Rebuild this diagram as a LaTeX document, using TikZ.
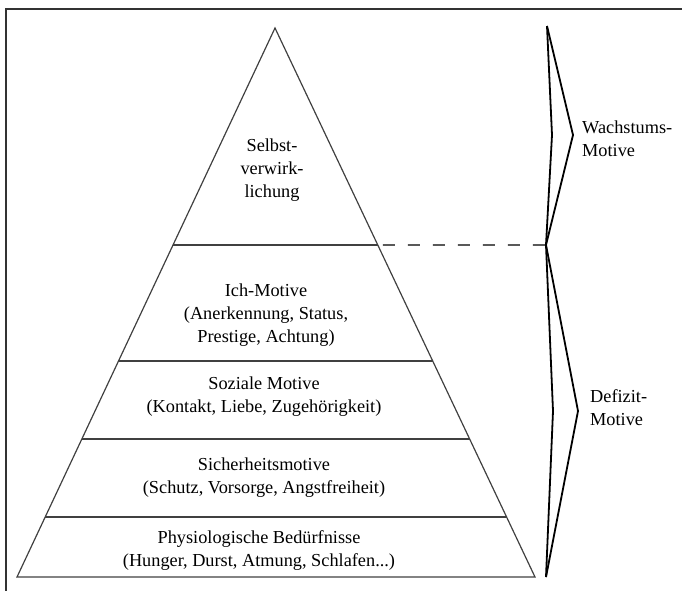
\documentclass[tikz,border=0pt]{standalone}
\usepackage{fontspec}
\setmainfont{Liberation Serif}
\usetikzlibrary{calc}
\newcommand{\stufe}[2]
{   \coordinate (l#1) at ($(spitze)!#2!(links)$);
    \coordinate (r#1) at ($(spitze)!#2!(rechts)$);
    \draw[pyr] (l#1) -- (r#1);
}
\newcommand{\motivfont}{\fontsize{18.3}{23}\selectfont}

\begin{document}
\begin{tikzpicture}[x=1pt,y=-1pt,
    pyr/.style={line width=1.2pt,black!75},
    klammer/.style={line width=1.8pt,black,line join=miter},
    txt/.style={align=center,inner sep=0pt,font=\motivfont},
    seite/.style={align=left,inner sep=0pt,anchor=west,font=\motivfont}]

 \useasboundingbox (0,0) rectangle (682,590);
 \draw[line width=1.6pt,black!80] (6,592) -- (6,9) -- (684,9);

 \coordinate (spitze) at (275,28);
 \coordinate (links) at (17,577);
 \coordinate (rechts) at (535,577);
 \draw[pyr,line join=miter] (links) -- (spitze) -- (rechts) -- cycle;
 \stufe{a}{0.3953} \stufe{b}{0.6066} \stufe{c}{0.7486} \stufe{d}{0.8907}

 \coordinate (k0) at (547,26);
 \coordinate (k1) at (546,245);
 \coordinate (k2) at (546,577);
   \draw[klammer] (k0) -- (552,135) -- (k1) -- (553,411) -- (k2);
   \draw[klammer] (k0) -- (573,135) -- (k1) -- (578,411) -- (k2);
   \draw[line width=1.6pt,black!65,dash pattern=on 12pt off 13pt] ($(ra)+(5,0)$) -- (k1);

 \node[txt] (selbst) at (272,170) {Selbst-\\verwirk-\\lichung};
 \node[txt] (ich) at (266,315) {Ich-Motive\\(Anerkennung, Status,\\Prestige, Achtung)};
 \node[txt] (sozial) at (264,397) {Soziale Motive\\(Kontakt, Liebe, Zugehörigkeit)};
 \node[txt] (sicher) at (264,478) {Sicherheitsmotive\\(Schutz, Vorsorge, Angstfreiheit)};
 \node[txt] (physio) at (259,551) {Physiologische Bedürfnisse\\(Hunger, Durst, Atmung, Schlafen...)};

 \node[seite] (wachstum) at (582,139) {Wachstums-\\Motive};
 \node[seite] (defizit) at (590,408) {Defizit-\\Motive};

\end{tikzpicture}
\end{document}
